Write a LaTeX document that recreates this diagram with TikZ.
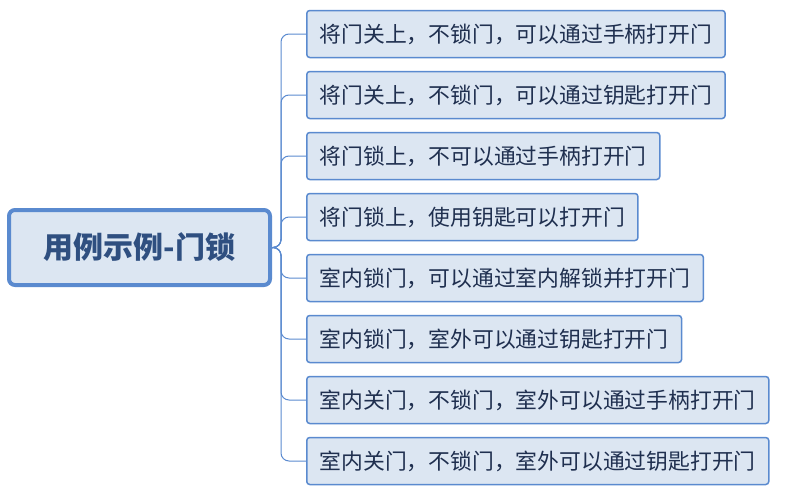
\documentclass[tikz,border=0pt]{standalone}
\usepackage{fontspec}
\newfontfamily\cjk{Noto Sans CJK SC}
\definecolor{bfill}{HTML}{DCE6F2}
\definecolor{bline}{HTML}{5A8ACF}
\definecolor{btext}{HTML}{1F2F4F}
\definecolor{rtext}{HTML}{2F4F80}
\begin{document}
\begin{tikzpicture}[x=1pt,y=-1pt,
  leaf/.style={draw=bline,line width=1.5pt,fill=bfill,rounded corners=3pt,anchor=west,minimum height=47pt,inner xsep=13pt,text=btext,font=\cjk\fontsize{21.8}{22}\selectfont},
  rootbox/.style={draw=bline,line width=4pt,fill=bfill,rounded corners=6pt,minimum width=261pt,minimum height=75pt,text=rtext,font=\cjk\bfseries\fontsize{30}{30}\selectfont},
  link/.style={draw=bline,line width=1pt,rounded corners=8pt}]
\useasboundingbox (0,0) rectangle (785,493);
\node[rootbox] (r) at (139.5,247.5) {用例示例-门锁};
\coordinate (t) at (281,247.5);
\foreach \i/\y/\t in {1/34/将门关上，不锁门，可以通过手柄打开门,2/95/将门关上，不锁门，可以通过钥匙打开门,3/156/将门锁上，不可以通过手柄打开门,4/217/将门锁上，使用钥匙可以打开门,5/278/室内锁门，可以通过室内解锁并打开门,6/339/室内锁门，室外可以通过钥匙打开门,7/400/室内关门，不锁门，室外可以通过手柄打开门,8/461/室内关门，不锁门，室外可以通过钥匙打开门}{
  \node[leaf] (c\i) at (306,\y) {\t};
  \draw[link] (r.east) -- (t) |- (c\i.west);
}
\end{tikzpicture}
\end{document}
